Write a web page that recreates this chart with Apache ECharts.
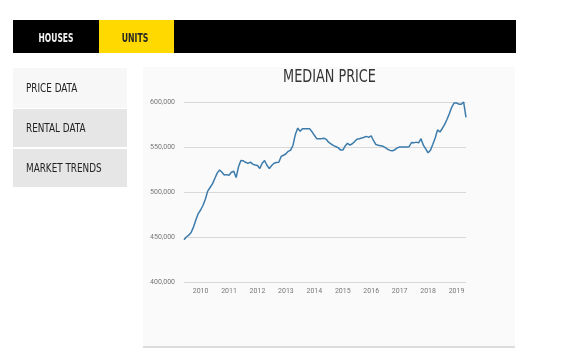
<!DOCTYPE html>
<html>
<head>
<meta charset="utf-8">
<script src="https://cdn.jsdelivr.net/npm/echarts@6/dist/echarts.min.js"></script>
<style>
html,body{margin:0;padding:0;background:#fff;}
#c{width:580px;height:352px;}
</style>
</head>
<body>
<div id="c"></div>
<script>
// ---- data ----
var startYear = 2009, startMonth = 6; // first monthly point: June 2009
var tabLabels = ['HOUSES', 'UNITS'];
var menuLabels = ['PRICE DATA', 'RENTAL DATA', 'MARKET TRENDS'];
var chartTitle = 'MEDIAN PRICE';
var yTicks = [400000, 450000, 500000, 550000, 600000];
var medianPrice = [
  447000,450000,452000,455000,461000,469000,476000,480000,485000,492000,
  501000,505000,509000,515000,521000,524500,522000,518800,519300,518600,
  522000,523000,516000,528000,535000,534600,533000,531800,533200,531000,
  530000,529500,526200,532000,535000,529700,526000,529500,532000,532700,
  533000,539500,540800,542500,545200,546500,552000,564000,571000,567500,
  570400,570400,570400,570400,567000,563000,559300,559300,559300,559800,
  558500,555300,553600,551900,550500,549300,546800,546600,551000,554200,
  552000,553600,556000,558700,559200,559900,560800,561800,560700,562500,
  557000,552700,552000,551400,550800,549200,547400,546200,545900,547000,
  549000,550000,550000,550000,550000,550400,555000,554600,555400,554600,
  559300,552000,548000,543500,546300,553000,560000,569000,566700,570600,
  575200,580800,587300,594400,598900,598900,597600,597500,600000,583000
];
var months = [];
for (var i = 0; i < medianPrice.length; i++) {
  var m = startMonth - 1 + i;
  var y = startYear + Math.floor(m / 12);
  var mm = (m % 12) + 1;
  months.push(y + '-' + (mm < 10 ? '0' + mm : mm));
}

var cond = '"DejaVu Sans Condensed","DejaVu Sans",sans-serif';
var chart = echarts.init(document.getElementById('c'), null, {renderer: 'canvas'});

function label(txt, x, y, size, weight, color, sx, align) {
  return {
    type: 'text', x: x, y: y, scaleX: sx, z: 5,
    style: {text: txt, fill: color, font: weight + ' ' + size + 'px ' + cond,
            textAlign: align, textVerticalAlign: 'middle'}
  };
}

var graphics = [
  // top bar
  {type: 'rect', shape: {x: 13, y: 20, width: 503, height: 33}, style: {fill: '#000'}, z: 0},
  {type: 'rect', shape: {x: 99, y: 20, width: 75, height: 33}, style: {fill: '#ffd900'}, z: 1},
  label(tabLabels[0], 56, 39, 12, 'bold', '#f2f2f2', 0.7, 'center'),
  label(tabLabels[1], 135, 39, 12, 'bold', '#262626', 0.72, 'center'),
  // side menu
  {type: 'rect', shape: {x: 13, y: 68, width: 114, height: 40}, style: {fill: '#f7f7f7'}},
  {type: 'rect', shape: {x: 13, y: 109, width: 114, height: 38}, style: {fill: '#e6e6e6'}},
  {type: 'rect', shape: {x: 13, y: 149, width: 114, height: 38}, style: {fill: '#e6e6e6'}},
  label(menuLabels[0], 26, 88.5, 12, 'normal', '#222', 0.82, 'left'),
  label(menuLabels[1], 26, 128.5, 12, 'normal', '#222', 0.82, 'left'),
  label(menuLabels[2], 26, 168.5, 12, 'normal', '#222', 0.82, 'left'),
  // chart panel
  {type: 'rect', shape: {x: 143, y: 67, width: 372, height: 280}, style: {fill: '#fafafa'}, z: -10},
  {type: 'rect', shape: {x: 143, y: 346, width: 372, height: 2}, style: {fill: '#dcdcdc'}, z: -9},
  label(chartTitle, 329.5, 78, 17, 'normal', '#333', 0.84, 'center')
];

chart.setOption({
  animation: false,
  backgroundColor: '#fff',
  graphic: graphics,
  grid: {left: 184, right: 114, top: 102, height: 180, containLabel: false},
  xAxis: {
    type: 'category',
    data: months,
    boundaryGap: false,
    axisLine: {show: false},
    axisTick: {show: false},
    splitLine: {show: false},
    axisLabel: {
      interval: function (idx, val) { return val.slice(5) === '01'; },
      formatter: function (val) { return val.slice(0, 4); },
      color: '#777',
      fontSize: 7,
      fontFamily: 'Roboto, sans-serif',
      margin: 6
    }
  },
  yAxis: {
    type: 'value',
    min: yTicks[0],
    max: yTicks[yTicks.length - 1],
    interval: yTicks[1] - yTicks[0],
    axisLine: {show: false},
    axisTick: {show: false},
    splitLine: {lineStyle: {color: '#d9d9d9', width: 1}},
    axisLabel: {
      color: '#777',
      fontSize: 7,
      fontFamily: 'Roboto, sans-serif',
      margin: 9,
      formatter: function (v) { return v.toLocaleString('en-US'); }
    }
  },
  series: [{
    type: 'line',
    data: medianPrice,
    showSymbol: false,
    symbol: 'none',
    lineStyle: {color: '#3b7bab', width: 1.5},
    clip: false
  }]
});
</script>
</body>
</html>
